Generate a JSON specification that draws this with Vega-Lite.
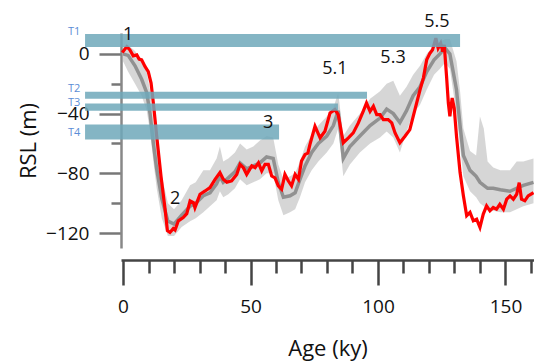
{
  "$schema": "https://vega.github.io/schema/vega-lite/v6.json",
  "autosize": "none",
  "width": 413,
  "height": 215,
  "padding": {"left": 121, "top": 33, "right": 0, "bottom": 114},
  "config": {
    "font": "Open Sans",
    "view": {"stroke": null},
    "axis": {
      "grid": false, "labelFontSize": 19, "labelColor": "#111111", "labelFlush": false, "labelOverlap": false,
      "titleFontSize": 22, "titleFontWeight": "normal", "titleColor": "#111111", "domainWidth": 2.5, "tickWidth": 2.5
    },
    "axisX": {"domainColor": "#444444", "tickColor": "#444444", "offset": 12, "labelPadding": 12, "titlePadding": 22},
    "axisY": {"domainColor": "#888888", "tickColor": "#777777", "labelPadding": 10, "titlePadding": 5}
  },
  "datasets": {
    "band": [
      {"age": 0, "med": 0, "lo": -5, "hi": 5},
      {"age": 2, "med": -1, "lo": -12, "hi": 6},
      {"age": 4.7, "med": -8, "lo": -20, "hi": 2},
      {"age": 7.3, "med": -17, "lo": -28, "hi": -5},
      {"age": 9.3, "med": -26, "lo": -38, "hi": -12},
      {"age": 10.6, "med": -40, "lo": -52, "hi": -25},
      {"age": 11.9, "med": -60, "lo": -72, "hi": -45},
      {"age": 13.2, "med": -77, "lo": -90, "hi": -62},
      {"age": 15.2, "med": -97, "lo": -110, "hi": -82},
      {"age": 17.6, "med": -112, "lo": -122, "hi": -100},
      {"age": 20, "med": -114, "lo": -122, "hi": -104},
      {"age": 23, "med": -108, "lo": -116, "hi": -98},
      {"age": 26.3, "med": -102, "lo": -112, "hi": -88},
      {"age": 28.5, "med": -100, "lo": -110, "hi": -86},
      {"age": 31.5, "med": -95, "lo": -106, "hi": -78},
      {"age": 34.1, "med": -93, "lo": -102, "hi": -78},
      {"age": 36.7, "med": -87, "lo": -98, "hi": -70},
      {"age": 38, "med": -82, "lo": -92, "hi": -62},
      {"age": 39.3, "med": -86, "lo": -96, "hi": -72},
      {"age": 41.3, "med": -83, "lo": -94, "hi": -70},
      {"age": 43.9, "med": -79, "lo": -90, "hi": -66},
      {"age": 45.9, "med": -73, "lo": -84, "hi": -60},
      {"age": 48.5, "med": -77, "lo": -88, "hi": -64},
      {"age": 51.1, "med": -75, "lo": -86, "hi": -62},
      {"age": 53.7, "med": -73, "lo": -84, "hi": -58},
      {"age": 56.3, "med": -69, "lo": -80, "hi": -55},
      {"age": 58.9, "med": -70, "lo": -80, "hi": -56},
      {"age": 60.9, "med": -86, "lo": -98, "hi": -74},
      {"age": 62.9, "med": -96, "lo": -108, "hi": -84},
      {"age": 65.5, "med": -95, "lo": -106, "hi": -82},
      {"age": 67.5, "med": -93, "lo": -104, "hi": -80},
      {"age": 69.4, "med": -84, "lo": -96, "hi": -72},
      {"age": 71.4, "med": -75, "lo": -86, "hi": -62},
      {"age": 74, "med": -66, "lo": -78, "hi": -54},
      {"age": 76.6, "med": -60, "lo": -72, "hi": -48},
      {"age": 79.9, "med": -55, "lo": -66, "hi": -42},
      {"age": 82.5, "med": -48, "lo": -60, "hi": -36},
      {"age": 84.4, "med": -38, "lo": -50, "hi": -26},
      {"age": 86.4, "med": -70, "lo": -82, "hi": -55},
      {"age": 89, "med": -62, "lo": -74, "hi": -48},
      {"age": 92.9, "med": -55, "lo": -66, "hi": -40},
      {"age": 96.9, "med": -48, "lo": -60, "hi": -30},
      {"age": 100.8, "med": -43, "lo": -56, "hi": -25},
      {"age": 103.4, "med": -37, "lo": -52, "hi": -20},
      {"age": 106, "med": -40, "lo": -56, "hi": -18},
      {"age": 108.6, "med": -46, "lo": -66, "hi": -28},
      {"age": 111.2, "med": -38, "lo": -52, "hi": -22},
      {"age": 113.8, "med": -28, "lo": -40, "hi": -14},
      {"age": 116.5, "med": -22, "lo": -34, "hi": -8},
      {"age": 119.1, "med": -12, "lo": -24, "hi": 0},
      {"age": 122, "med": -4, "lo": -14, "hi": 6},
      {"age": 124.3, "med": 0, "lo": -10, "hi": 8},
      {"age": 126.3, "med": 4, "lo": -6, "hi": 10},
      {"age": 128.2, "med": 0, "lo": -10, "hi": 10},
      {"age": 130.8, "med": -24, "lo": -40, "hi": -5},
      {"age": 132.2, "med": -48, "lo": -62, "hi": -25},
      {"age": 133.5, "med": -68, "lo": -82, "hi": -50},
      {"age": 136.1, "med": -78, "lo": -92, "hi": -65},
      {"age": 138.5, "med": -82, "lo": -96, "hi": -68},
      {"age": 140, "med": -86, "lo": -100, "hi": -42},
      {"age": 141.5, "med": -88, "lo": -102, "hi": -50},
      {"age": 143, "med": -90, "lo": -104, "hi": -72},
      {"age": 145.2, "med": -90, "lo": -105, "hi": -76},
      {"age": 148, "med": -91, "lo": -106, "hi": -78},
      {"age": 151.8, "med": -92, "lo": -106, "hi": -78},
      {"age": 154.4, "med": -90, "lo": -104, "hi": -72},
      {"age": 157, "med": -88, "lo": -102, "hi": -72},
      {"age": 161, "med": -86, "lo": -100, "hi": -70}
    ],
    "red": [
      {"age": -0.3, "rsl": 1},
      {"age": 1.5, "rsl": 4.9},
      {"age": 2.7, "rsl": 2.7},
      {"age": 4, "rsl": -1.3},
      {"age": 5.4, "rsl": -0.7},
      {"age": 6.3, "rsl": -3.5},
      {"age": 7.3, "rsl": -4},
      {"age": 8.6, "rsl": -8.4},
      {"age": 9.9, "rsl": -11.8},
      {"age": 11, "rsl": -19.5},
      {"age": 11.9, "rsl": -33},
      {"age": 13.2, "rsl": -55},
      {"age": 14.9, "rsl": -82},
      {"age": 16.5, "rsl": -104},
      {"age": 17.4, "rsl": -118.4},
      {"age": 18.4, "rsl": -119.6},
      {"age": 19.7, "rsl": -117},
      {"age": 20.4, "rsl": -118},
      {"age": 21.7, "rsl": -111.8},
      {"age": 23.6, "rsl": -109.6},
      {"age": 25, "rsl": -107},
      {"age": 26.3, "rsl": -98.4},
      {"age": 27.6, "rsl": -99.6},
      {"age": 28.2, "rsl": -103},
      {"age": 30.2, "rsl": -94},
      {"age": 32.2, "rsl": -91.8},
      {"age": 34.1, "rsl": -89.5},
      {"age": 36.1, "rsl": -84},
      {"age": 38, "rsl": -79.5},
      {"age": 39.3, "rsl": -84},
      {"age": 40.7, "rsl": -86},
      {"age": 42.6, "rsl": -85},
      {"age": 44.6, "rsl": -80.7},
      {"age": 45.9, "rsl": -74},
      {"age": 47.2, "rsl": -76.2},
      {"age": 48.5, "rsl": -80.7},
      {"age": 50.5, "rsl": -75},
      {"age": 51.8, "rsl": -76.2},
      {"age": 53.1, "rsl": -73},
      {"age": 54.4, "rsl": -78.4},
      {"age": 55.7, "rsl": -74},
      {"age": 57, "rsl": -74},
      {"age": 58.3, "rsl": -81.8},
      {"age": 59.6, "rsl": -83},
      {"age": 60.9, "rsl": -88.4},
      {"age": 62.2, "rsl": -90.7},
      {"age": 63.5, "rsl": -80.7},
      {"age": 64.8, "rsl": -85},
      {"age": 66.1, "rsl": -88.4},
      {"age": 67.5, "rsl": -80.7},
      {"age": 68.8, "rsl": -84},
      {"age": 70, "rsl": -71.8},
      {"age": 71.4, "rsl": -67.3},
      {"age": 72.5, "rsl": -66.5},
      {"age": 73.3, "rsl": -60.7},
      {"age": 75.3, "rsl": -48.5},
      {"age": 77.3, "rsl": -56.2},
      {"age": 79.2, "rsl": -51.8},
      {"age": 81.2, "rsl": -39.5},
      {"age": 83.1, "rsl": -37.3},
      {"age": 84.4, "rsl": -40.7},
      {"age": 86.4, "rsl": -59.5},
      {"age": 88.4, "rsl": -56.2},
      {"age": 90.3, "rsl": -52.9},
      {"age": 92.3, "rsl": -46.2},
      {"age": 94.2, "rsl": -38.5},
      {"age": 95.5, "rsl": -32.9},
      {"age": 96.9, "rsl": -38.5},
      {"age": 98.2, "rsl": -35.1},
      {"age": 99.5, "rsl": -40.7},
      {"age": 100.8, "rsl": -40.7},
      {"age": 102.1, "rsl": -44},
      {"age": 104, "rsl": -44},
      {"age": 105.4, "rsl": -46.2},
      {"age": 106.7, "rsl": -52.9},
      {"age": 108.6, "rsl": -59.5},
      {"age": 110.6, "rsl": -55.1},
      {"age": 112.5, "rsl": -50.7},
      {"age": 114.5, "rsl": -37.3},
      {"age": 116.5, "rsl": -24},
      {"age": 117.8, "rsl": -16.2},
      {"age": 119.1, "rsl": -4},
      {"age": 120.4, "rsl": 0.5},
      {"age": 121.4, "rsl": 2.7},
      {"age": 122.7, "rsl": 10.5},
      {"age": 123.6, "rsl": 3.8},
      {"age": 124.6, "rsl": 7.1},
      {"age": 125.4, "rsl": 1.6},
      {"age": 126, "rsl": 6},
      {"age": 126.9, "rsl": -15.1},
      {"age": 127.6, "rsl": -32.9},
      {"age": 128.2, "rsl": -41.8},
      {"age": 129.1, "rsl": -29.5},
      {"age": 129.9, "rsl": -36.2},
      {"age": 130.8, "rsl": -55.1},
      {"age": 132.2, "rsl": -79.5},
      {"age": 133.5, "rsl": -95},
      {"age": 134.8, "rsl": -108.4},
      {"age": 136.1, "rsl": -106.2},
      {"age": 137.4, "rsl": -111.8},
      {"age": 138.7, "rsl": -110.7},
      {"age": 140, "rsl": -116.2},
      {"age": 141.3, "rsl": -107.3},
      {"age": 142.6, "rsl": -101.8},
      {"age": 143.9, "rsl": -105.1},
      {"age": 145.2, "rsl": -102.9},
      {"age": 146.5, "rsl": -104},
      {"age": 147.8, "rsl": -100.7},
      {"age": 149.2, "rsl": -104},
      {"age": 150.5, "rsl": -97.3},
      {"age": 151.8, "rsl": -95.1},
      {"age": 153.1, "rsl": -97.3},
      {"age": 154.4, "rsl": -94},
      {"age": 155.4, "rsl": -86.2},
      {"age": 156.3, "rsl": -97.3},
      {"age": 157.6, "rsl": -98.4},
      {"age": 158.9, "rsl": -95.1},
      {"age": 161, "rsl": -92.9}
    ],
    "bars": [
      {"name": "T1", "age": -14.9, "age2": 132.2, "rsl": 13.3, "rsl2": 4.7},
      {"name": "T2", "age": -14.9, "age2": 95.7, "rsl": -25.3, "rsl2": -30},
      {"name": "T3", "age": -14.9, "age2": 84.3, "rsl": -33.3, "rsl2": -38},
      {"name": "T4", "age": -14.9, "age2": 61.2, "rsl": -47.3, "rsl2": -57.3}
    ],
    "tlabels": [
      {"label": "T1", "age": -19.2, "rsl": 14.9},
      {"label": "T2", "age": -19.2, "rsl": -23.3},
      {"label": "T3", "age": -19.2, "rsl": -33.2},
      {"label": "T4", "age": -19.2, "rsl": -53.3}
    ],
    "stages": [
      {"label": "1", "age": 2, "rsl": 12.7},
      {"label": "2", "age": 20.4, "rsl": -97.3},
      {"label": "3", "age": 56.9, "rsl": -46},
      {"label": "5.1", "age": 83.1, "rsl": -10},
      {"label": "5.3", "age": 105.9, "rsl": -2.7},
      {"label": "5.5", "age": 123.1, "rsl": 21.3}
    ]
  },
  "layer": [
    {
      "data": {"name": "band"},
      "mark": {"type": "area", "color": "#cfcfcf", "opacity": 0.85},
      "encoding": {
        "x": {
          "field": "age", "type": "quantitative",
          "scale": {"domain": [-0.8, 161.2], "nice": false, "zero": false},
          "axis": {"title": "Age (ky)", "values": [0, 10, 20, 30, 40, 50, 60, 70, 80, 90, 100, 110, 120, 130, 140, 150, 160], "labelExpr": "datum.value % 50 === 0 ? datum.label : ''", "tickSize": {"condition": {"test": "datum.value % 50 === 0", "value": 25}, "value": 13}}
        },
        "y": {
          "field": "lo", "type": "quantitative",
          "scale": {"domain": [-130, 14], "nice": false, "zero": false},
          "axis": {"title": "RSL (m)", "values": [0, -20, -40, -60, -80, -100, -120], "labelExpr": "datum.value % 40 === 0 ? datum.label : ''", "tickSize": {"condition": {"test": "datum.value % 40 === 0", "value": 22}, "value": 10}}
        },
        "y2": {"field": "hi"}
      }
    },
    {
      "data": {"name": "band"},
      "mark": {"type": "line", "color": "#8a8a8a", "strokeWidth": 3.5, "opacity": 0.9},
      "encoding": {
        "x": {"field": "age", "type": "quantitative", "axis": {"title": "Age (ky)", "values": [0, 10, 20, 30, 40, 50, 60, 70, 80, 90, 100, 110, 120, 130, 140, 150, 160], "labelExpr": "datum.value % 50 === 0 ? datum.label : ''", "tickSize": {"condition": {"test": "datum.value % 50 === 0", "value": 25}, "value": 13}}},
        "y": {"field": "med", "type": "quantitative", "axis": {"title": "RSL (m)", "values": [0, -20, -40, -60, -80, -100, -120], "labelExpr": "datum.value % 40 === 0 ? datum.label : ''", "tickSize": {"condition": {"test": "datum.value % 40 === 0", "value": 22}, "value": 10}}}
      }
    },
    {
      "data": {"name": "red"},
      "mark": {"type": "line", "color": "#ff0000", "strokeWidth": 3.2},
      "encoding": {
        "x": {"field": "age", "type": "quantitative", "axis": {"title": "Age (ky)", "values": [0, 10, 20, 30, 40, 50, 60, 70, 80, 90, 100, 110, 120, 130, 140, 150, 160], "labelExpr": "datum.value % 50 === 0 ? datum.label : ''", "tickSize": {"condition": {"test": "datum.value % 50 === 0", "value": 25}, "value": 13}}},
        "y": {"field": "rsl", "type": "quantitative", "axis": {"title": "RSL (m)", "values": [0, -20, -40, -60, -80, -100, -120], "labelExpr": "datum.value % 40 === 0 ? datum.label : ''", "tickSize": {"condition": {"test": "datum.value % 40 === 0", "value": 22}, "value": 10}}}
      }
    },
    {
      "data": {"name": "bars"},
      "mark": {"type": "rect", "color": "#6ea8ba", "opacity": 0.85},
      "encoding": {
        "x": {"field": "age", "type": "quantitative", "axis": {"title": "Age (ky)", "values": [0, 10, 20, 30, 40, 50, 60, 70, 80, 90, 100, 110, 120, 130, 140, 150, 160], "labelExpr": "datum.value % 50 === 0 ? datum.label : ''", "tickSize": {"condition": {"test": "datum.value % 50 === 0", "value": 25}, "value": 13}}},
        "x2": {"field": "age2"},
        "y": {"field": "rsl", "type": "quantitative", "axis": {"title": "RSL (m)", "values": [0, -20, -40, -60, -80, -100, -120], "labelExpr": "datum.value % 40 === 0 ? datum.label : ''", "tickSize": {"condition": {"test": "datum.value % 40 === 0", "value": 22}, "value": 10}}},
        "y2": {"field": "rsl2"}
      }
    },
    {
      "data": {"name": "tlabels"},
      "mark": {"type": "text", "color": "#5b8dd6", "fontSize": 11, "align": "center", "baseline": "middle"},
      "encoding": {
        "x": {"field": "age", "type": "quantitative", "axis": {"title": "Age (ky)", "values": [0, 10, 20, 30, 40, 50, 60, 70, 80, 90, 100, 110, 120, 130, 140, 150, 160], "labelExpr": "datum.value % 50 === 0 ? datum.label : ''", "tickSize": {"condition": {"test": "datum.value % 50 === 0", "value": 25}, "value": 13}}},
        "y": {"field": "rsl", "type": "quantitative", "axis": {"title": "RSL (m)", "values": [0, -20, -40, -60, -80, -100, -120], "labelExpr": "datum.value % 40 === 0 ? datum.label : ''", "tickSize": {"condition": {"test": "datum.value % 40 === 0", "value": 22}, "value": 10}}},
        "text": {"field": "label"}
      }
    },
    {
      "data": {"name": "stages"},
      "mark": {"type": "text", "color": "#111111", "fontSize": 18, "align": "center", "baseline": "middle"},
      "encoding": {
        "x": {"field": "age", "type": "quantitative", "axis": {"title": "Age (ky)", "values": [0, 10, 20, 30, 40, 50, 60, 70, 80, 90, 100, 110, 120, 130, 140, 150, 160], "labelExpr": "datum.value % 50 === 0 ? datum.label : ''", "tickSize": {"condition": {"test": "datum.value % 50 === 0", "value": 25}, "value": 13}}},
        "y": {"field": "rsl", "type": "quantitative", "axis": {"title": "RSL (m)", "values": [0, -20, -40, -60, -80, -100, -120], "labelExpr": "datum.value % 40 === 0 ? datum.label : ''", "tickSize": {"condition": {"test": "datum.value % 40 === 0", "value": 22}, "value": 10}}},
        "text": {"field": "label"}
      }
    }
  ]
}
